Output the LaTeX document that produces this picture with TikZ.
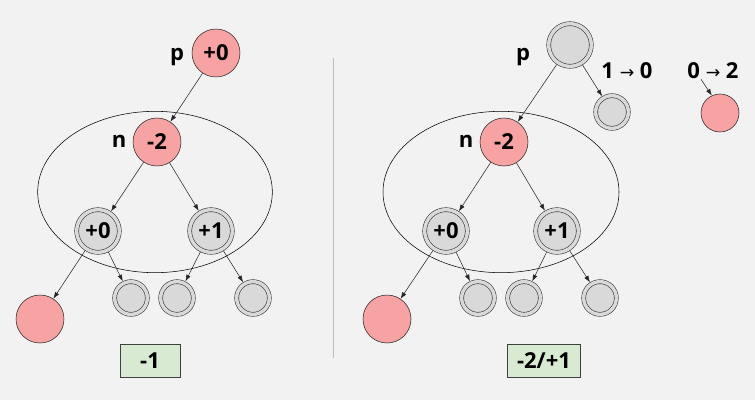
\documentclass[tikz,border=0pt]{standalone}
\usepackage{fontspec}
\setmainfont{Open Sans}
\newfontfamily\arrowfont{DejaVu Sans}
\usetikzlibrary{arrows.meta,shapes.geometric}
\definecolor{bggray}{HTML}{F2F2F2}
\definecolor{nred}{HTML}{F7A3A3}
\definecolor{ngray}{HTML}{D9D9D9}
\definecolor{ngreen}{HTML}{D9EAD3}
\definecolor{divgray}{HTML}{BBBBBB}

\begin{document}
\begin{tikzpicture}[x=0.75pt,y=-0.75pt,font=\fontsize{16.5}{18}\selectfont\bfseries,
    every node/.style={inner sep=0pt},
    rednode/.style={circle,draw=black!85,fill=nred,minimum size=36pt},
    smallred/.style={rednode,minimum size=28.5pt},
    dnode/.style={circle,draw=black!85,fill=ngray,double=ngray,double distance=2.6pt,
      minimum size=32pt,outer sep=1.7pt},
    leaf/.style={dnode,minimum size=24.5pt},
    sumbox/.style={draw=black!75,fill=ngreen,minimum height=25pt,minimum width=45pt,inner xsep=7pt},
    link/.style={-{Latex[length=5pt,width=3.5pt]},black!85}]
  \path[use as bounding box,fill=bggray] (0,0) rectangle (755,400);
  \draw[divgray] (333,58) -- (333,358);

  % left tree
  \node[ellipse,draw,minimum width=176pt,minimum height=121pt] (e1) at (155,192) {};
  \node[rednode] (p1) at (216,53) {+0};
  \node (lp1) at (177,57) {p};
  \node[rednode] (n1) at (157,142) {-2};
  \node (ln1) at (119,141) {n};
  \node[dnode] (a1) at (98,231) {+0};
  \node[dnode] (b1) at (211,231) {+1};
  \node[rednode] (r1) at (40,319) {};
  \node[leaf] (c1) at (131,298) {};
  \node[leaf] (d1) at (177,298) {};
  \node[leaf] (f1) at (253,298) {};
  \node[sumbox] (s1) at (150,361) {-1};
  \draw[link] (p1) -- (n1);
  \draw[link] (n1) -- (a1);
  \draw[link] (n1) -- (b1);
  \draw[link] (a1) -- (r1);
  \draw[link] (a1) -- (c1);
  \draw[link] (b1) -- (d1);
  \draw[link] (b1) -- (f1);

  % right tree
  \node[ellipse,draw,minimum width=177pt,minimum height=121pt] (e2) at (501,192) {};
  \node[dnode] (p2) at (570,45) {};
  \node (lp2) at (523,57) {p};
  \node[leaf] (q2) at (612,112) {};
  \node (lq2) at (627,71) {1 {\arrowfont\mdseries\fontsize{13}{15}\selectfont →} 0};
  \node (lt2) at (713,71) {0 {\arrowfont\mdseries\fontsize{13}{15}\selectfont →} 2};
  \node[smallred] (t2) at (720,113) {};
  \node[rednode] (n2) at (504,142) {-2};
  \node (ln2) at (466,141) {n};
  \node[dnode] (a2) at (446,231) {+0};
  \node[dnode] (b2) at (557,231) {+1};
  \node[rednode] (r2) at (387,319) {};
  \node[leaf] (c2) at (478,298) {};
  \node[leaf] (d2) at (524,298) {};
  \node[leaf] (f2) at (600,298) {};
  \node[sumbox] (s2) at (544,361) {-2/+1};
  \draw[link] (p2) -- (n2);
  \draw[link] (p2) -- (q2);
  \draw[link] ([xshift=-9pt]lt2.south) -- (t2.115);
  \draw[link] (n2) -- (a2);
  \draw[link] (n2) -- (b2);
  \draw[link] (a2) -- (r2);
  \draw[link] (a2) -- (c2);
  \draw[link] (b2) -- (d2);
  \draw[link] (b2) -- (f2);
\end{tikzpicture}
\end{document}
